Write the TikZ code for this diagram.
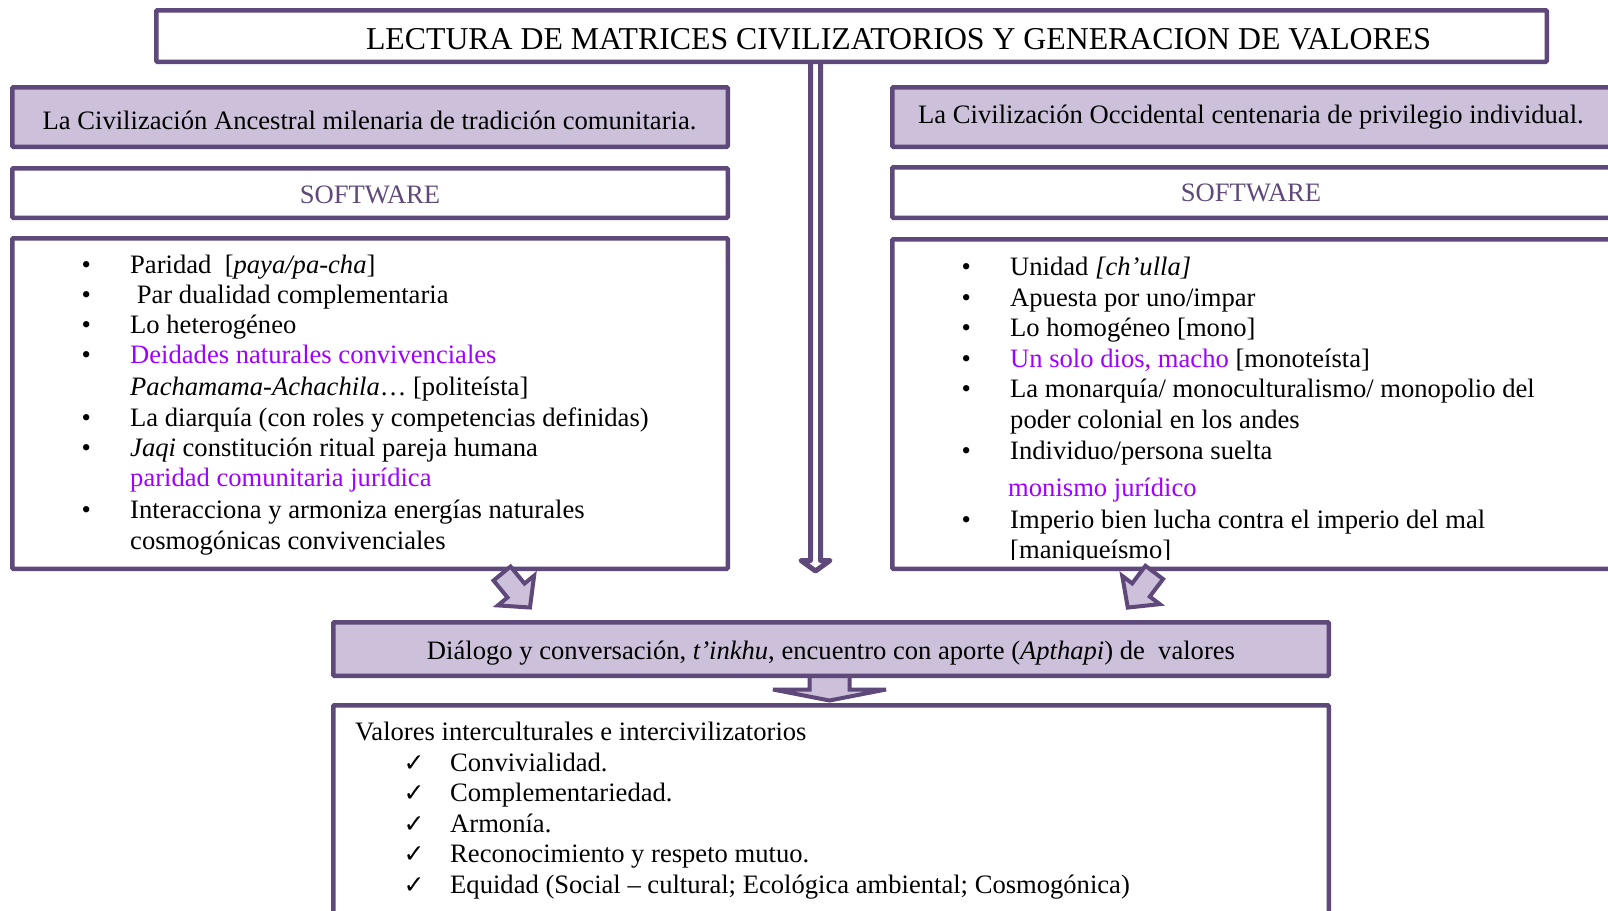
\documentclass[tikz,border=0pt]{standalone}
\usepackage{fontspec}
\setmainfont{Liberation Serif}
\newfontfamily\symfont{DejaVu Sans}
\definecolor{dpurple}{RGB}{95,73,122}
\definecolor{lpurple}{RGB}{204,192,218}
\definecolor{vtext}{RGB}{160,0,255}
\pgfdeclarelayer{bg}
\pgfsetlayers{bg,main}
\newcommand\bul{\makebox[48.5pt][l]{•}}
\newcommand\chk{\makebox[46.5pt][l]{{\symfont\fontsize{25}{25}\selectfont ✓}}}
\tikzset{
  box/.style={draw=dpurple, line width=4.5pt, fill=white, inner sep=0pt, rectangle, rounded corners=1pt},
  fbox/.style={box, fill=lpurple},
  txt/.style={anchor=base west, inner sep=0pt, font=\fontsize{26.6}{30.6}\selectfont},
  ctxt/.style={txt, anchor=base},
  blk/.style={draw=dpurple, fill=lpurple, line width=4pt, line join=miter},
  dblarrow/.style={draw=dpurple, fill=white, line width=5pt, line join=round},
}
\begin{document}
\begin{tikzpicture}[x=1pt,y=-1pt]
\useasboundingbox (0,0) rectangle (1608,910);
\begin{pgfonlayer}{bg}
\fill[white] (0,0) rectangle (1608,910);
\end{pgfonlayer}
\clip (0,0) rectangle (1608,910);

% boxes
\node[box, minimum width=1390.5pt, minimum height=51.5pt] (title) at (851.5,36) {};
\node[fbox, minimum width=715.5pt, minimum height=59.5pt] (lciv) at (370,117) {};
\node[box, minimum width=715.5pt, minimum height=49.5pt] (lsoft) at (370,193) {};
\node[box, minimum width=715.5pt, minimum height=330.5pt] (lcont) at (370,403.5) {};
\node[fbox, minimum width=735.5pt, minimum height=59.5pt] (rciv) at (1260,117) {};
\node[box, minimum width=735.5pt, minimum height=50.5pt] (rsoft) at (1260,192.5) {};
\node[box, minimum width=735.5pt, minimum height=329.5pt] (rcont) at (1260,404) {};
\node[fbox, minimum width=995.5pt, minimum height=53.5pt] (dlg) at (831,649) {};
\node[box, minimum width=995.5pt, minimum height=222.5pt] (bot) at (831,816.5) {};

% connectors behind boxes
\coordinate (cx) at (815.5,0);
\begin{pgfonlayer}{bg}
\path[dblarrow] ([xshift=-5pt]title.south -| cx) -- (810.5,560.5) -- (801,560.5) -- (815.5,571) -- (830,560.5) -- (820.5,560.5) -- ([xshift=5pt]title.south -| cx);
\path[blk] (809.5,670) -- (809.5,689.5) -- (773,689.5) -- (829.5,700.5) -- (886,689.5) -- (849.5,689.5) -- (849.5,670);
\end{pgfonlayer}

% title texts
\node[ctxt, font=\fontsize{31.8}{35}\selectfont] (ttl) at (898.5,49.5) {LECTURA DE MATRICES CIVILIZATORIOS Y GENERACION DE VALORES};
\node[ctxt] (lct) at (369.5,129) {La Civilización Ancestral milenaria de tradición comunitaria.};
\node[ctxt, text=dpurple] (lsw) at (370,203) {SOFTWARE};
\node[txt] (rct) at (918,123) {La Civilización Occidental centenaria de privilegio individual.};
\node[ctxt, text=dpurple] (rsw) at (1251,201) {SOFTWARE};

% left list
\node[txt] (l1) at (81.5,273.5) {\bul Paridad\ \ [\textit{paya/pa-cha}]};
\node[txt] (l2) at (81.5,303) {\bul\ Par dualidad complementaria};
\node[txt] (l3) at (81.5,333.5) {\bul Lo heterogéneo};
\node[txt] (l4) at (81.5,363.5) {\bul \textcolor{vtext}{Deidades naturales convivenciales}};
\node[txt] (l5) at (130,395.5) {\textit{Pachamama-Achachila}… [politeísta]};
\node[txt] (l6) at (81.5,426) {\bul La diarquía (con roles y competencias definidas)};
\node[txt] (l7) at (81.5,456.5) {\bul \textit{Jaqi} constitución ritual pareja humana};
\node[txt, text=vtext] (l8) at (130,486.5) {paridad comunitaria jurídica};
\node[txt] (l9) at (81.5,518.5) {\bul Interacciona y armoniza energías naturales};
\node[txt] (l10) at (130,549.5) {cosmogónicas convivenciales};

% right list
\begin{scope}
\clip (890,237) rectangle (1608,559.5);
\node[txt] (r1) at (961.5,275.5) {\bul Unidad \textit{[ch’ulla]}};
\node[txt] (r2) at (961.5,306.5) {\bul Apuesta por uno/impar};
\node[txt] (r3) at (961.5,336.5) {\bul Lo homogéneo [mono]};
\node[txt] (r4) at (961.5,367.5) {\bul \textcolor{vtext}{Un solo dios, macho} [monoteísta]};
\node[txt] (r5) at (961.5,397.5) {\bul La monarquía/ monoculturalismo/ monopolio del};
\node[txt] (r6) at (1010,428.5) {poder colonial en los andes};
\node[txt] (r7) at (961.5,459.5) {\bul Individuo/persona suelta};
\node[txt, text=vtext] (r8) at (1008,496.5) {monismo jurídico};
\node[txt] (r9) at (961.5,528.5) {\bul Imperio bien lucha contra el imperio del mal};
\node[txt] (r10) at (1010,558.5) {[maniqueísmo]};
\end{scope}

% dialogue
\node[ctxt] (dtx) at (831,659) {Diálogo y conversación, \textit{t’inkhu}, encuentro con aporte (\textit{Apthapi}) de\ \ valores};

% values
\node[txt] (v0) at (355,740.5) {Valores interculturales e intercivilizatorios};
\node[txt] (v1) at (403.5,771.5) {\chk Convivialidad.};
\node[txt] (v2) at (403.5,801.5) {\chk Complementariedad.};
\node[txt] (v3) at (403.5,832.5) {\chk Armonía.};
\node[txt] (v4) at (403.5,862.5) {\chk Reconocimiento y respeto mutuo.};
\node[txt] (v5) at (403.5,893.5) {\chk Equidad (Social – cultural; Ecológica ambiental; Cosmogónica)};

% small block arrows
\begin{scope}[shift={(516,590.5)}, rotate=-50.6]
\path[blk] (-22,-11) -- (0,-11) -- (0,-23.5) -- (22,0) -- (0,23.5) -- (0,11) -- (-22,11) -- cycle;
\end{scope}
\begin{scope}[shift={(1141,590)}, rotate=-127]
\path[blk] (-22,-11) -- (0,-11) -- (0,-23.5) -- (22,0) -- (0,23.5) -- (0,11) -- (-22,11) -- cycle;
\end{scope}
\end{tikzpicture}
\end{document}
